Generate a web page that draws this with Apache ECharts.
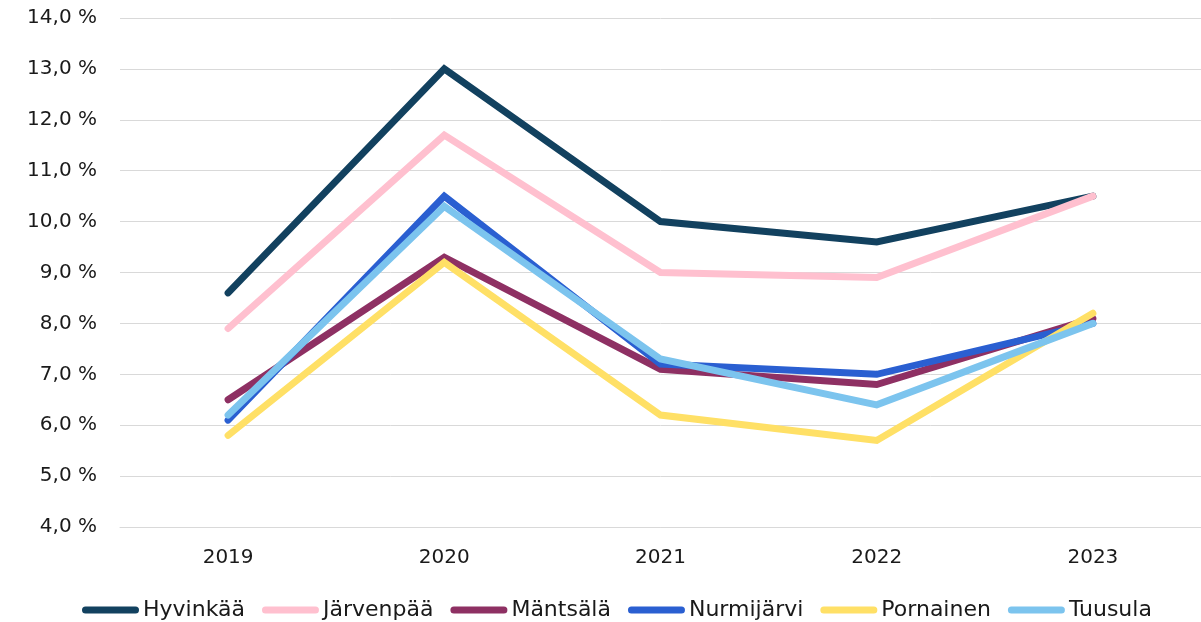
<!DOCTYPE html>
<html>
<head>
<meta charset="utf-8">
<script src="https://cdn.jsdelivr.net/npm/echarts@6/dist/echarts.min.js"></script>
<style>html,body{margin:0;padding:0;background:#fff;}#c{width:1201px;height:622px;}</style>
</head>
<body>
<div id="c"></div>
<script>
const categories = ['2019', '2020', '2021', '2022', '2023'];
const hyvinkaa   = [8.6, 13.0, 10.0, 9.6, 10.5];
const jarvenpaa  = [7.9, 11.7, 9.0, 8.9, 10.5];
const mantsala   = [6.5, 9.3, 7.1, 6.8, 8.1];
const nurmijarvi = [6.1, 10.5, 7.2, 7.0, 8.0];
const pornainen  = [5.8, 9.2, 6.2, 5.7, 8.2];
const tuusula    = [6.2, 10.3, 7.3, 6.4, 8.0];
const seriesNames = ['Hyvinkää', 'Järvenpää', 'Mäntsälä', 'Nurmijärvi', 'Pornainen', 'Tuusula'];
const seriesData = [hyvinkaa, jarvenpaa, mantsala, nurmijarvi, pornainen, tuusula];
const colors = ['#12415f', '#ffc0cf', '#8e3063', '#2a5fd1', '#ffe066', '#7cc4ee'];

const FONT = '"DejaVu Sans", sans-serif';
const chart = echarts.init(document.getElementById('c'));
chart.setOption({
  animation: false,
  color: colors,
  grid: { left: 120, right: 0, top: 18, bottom: 95, containLabel: false },
  xAxis: {
    type: 'category',
    data: categories,
    boundaryGap: true,
    axisLine: { show: true, lineStyle: { color: '#d9d9d9', width: 1 } },
    axisTick: { show: false },
    axisLabel: { color: '#1a1a1a', fontSize: 20, fontFamily: FONT, margin: 21 }
  },
  yAxis: {
    type: 'value',
    min: 4, max: 14, interval: 1,
    axisLine: { show: false },
    axisTick: { show: false },
    splitLine: { lineStyle: { color: '#d9d9d9', width: 1 } },
    axisLabel: {
      color: '#1a1a1a', fontSize: 20, fontFamily: FONT, margin: 23,
      formatter: v => v.toFixed(1).replace('.', ',') + ' %'
    }
  },
  legend: {
    left: 82, top: 599, padding: 0,
    itemWidth: 57, itemHeight: 7, itemGap: 17,
    icon: 'path://M3.5,0 H53.5 A3.5,3.5 0 0 1 53.5,7 H3.5 A3.5,3.5 0 0 1 3.5,0 Z',
    textStyle: { color: '#1a1a1a', fontSize: 22, fontFamily: FONT, padding: [0, 0, 0, -1] }
  },
  series: seriesNames.map((n, i) => ({
    name: n,
    type: 'line',
    data: seriesData[i],
    symbol: 'none',
    lineStyle: { width: 7, cap: 'round', join: 'miter', color: colors[i] },
    itemStyle: { color: colors[i] }
  }))
});
</script>
</body>
</html>
